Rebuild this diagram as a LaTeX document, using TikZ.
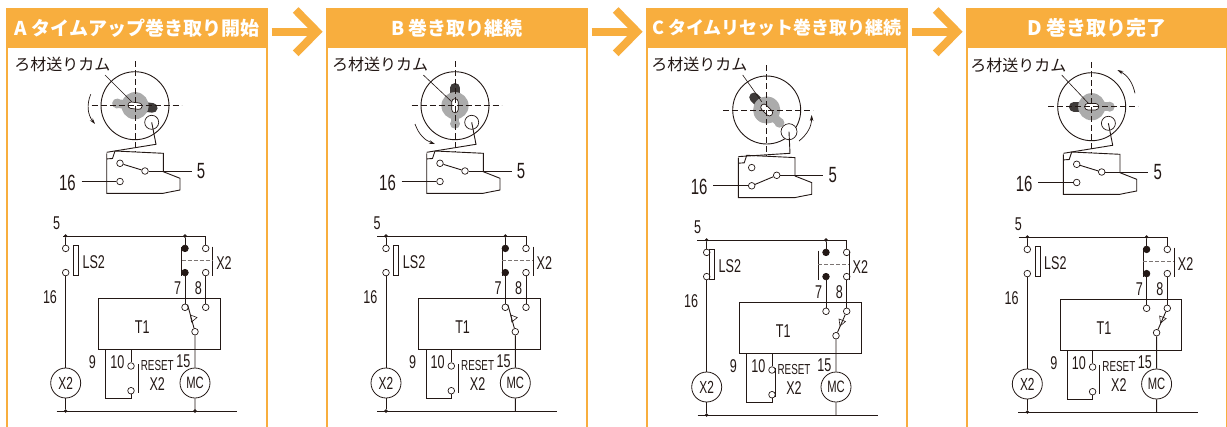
\documentclass[tikz,border=0pt]{standalone}
\usepackage{fontspec}
\setmainfont{Liberation Sans}[FakeStretch=0.68]
\newfontfamily\cjkfont{Noto Sans CJK JP}
\usetikzlibrary{arrows.meta}

\definecolor{panelorange}{HTML}{F8AE3E}
\definecolor{inkline}{HTML}{231815}
\definecolor{camgray}{HTML}{ABABAB}
\definecolor{camdark}{HTML}{3E3A39}

\tikzset{
  wire/.style={line width=0.9},
  contact/.style={circle,draw,fill=white,minimum size=6.6,inner sep=0,line width=0.7},
  blackcontact/.style={contact,fill=inkline},
  junction/.style={circle,draw,fill=inkline,minimum size=3,inner sep=0,line width=0.4},
  coil/.style={circle,draw,fill=white,minimum size=30,inner sep=0,line width=0.8,font=\fontsize{17.5}{17.5}\selectfont},
  num/.style={inner sep=0,font=\fontsize{18.5}{18.5}\selectfont},
  bignum/.style={inner sep=0,font=\fontsize{22}{22}\selectfont},
  kana/.style={inner sep=0,font=\cjkfont\fontsize{16}{16}\selectfont},
  head/.style={fill=panelorange,text=white,inner sep=0,minimum width=262,minimum height=39.5,font=\cjkfont\bfseries\fontsize{#1}{#1}\selectfont},
  centerline/.style={line width=0.6,dash pattern=on 6pt off 3pt},
  turn/.style={line width=0.7,-{Stealth[length=6pt,width=3.6pt]}},
  step arrow/.style={panelorange,line width=8},
}

% #1 cam angle, #2 roller, #3 roller size, #4 lever knee, #5 contact that the lever joins
\newcommand\camswitch[5]{
  \draw[wire] (0,0) circle (34);
  \begin{scope}[rotate=#1]
    \draw[camdark,line width=9.6,line cap=round] (0,0) -- (17.9,0);
    \fill[camgray] (0,0) circle (13.6) (-18,0) circle (5);
    \draw[camgray,line width=8.6] (0,0) -- (-18,0);
    \draw[fill=white,line width=0.7,rounded corners=3] (-7,-3.2) rectangle (7,3.2);
  \end{scope}
  \draw[centerline] (-43.3,0) -- (46.7,0);
  \draw[centerline] (0,-44.7) -- (0,46);
  \node[circle,draw,fill=white,minimum size=#3,inner sep=0,line width=0.7] (roller) at #2 {};
  \coordinate (leverknee) at #4;
  \coordinate (levertip) at (-28.3,46.6);
  \draw[wire] (roller.center) -- (leverknee) -- (levertip);
  % switch body
  \draw[wire] (-28.3,47.6) -- (-28.3,87.6) -- (28.3,87.6) -- (33,86.6) -- (45,84.3)
    -- (45,72.6) -- (28.3,66) -- (28.3,47.6) -- (-20,45.3) -- (-22.5,52.8) -- (-28.3,53.2);
  \node[contact] (swnc) at (-15,57.6) {};
  \node[contact] (swno) at (-15,75.8) {};
  \node[contact] (swcom) at (10,65.3) {};
  \coordinate (wire5) at (56.7,65.3);
  \coordinate (wire16) at (-53.3,75.8);
  \draw[wire] (swcom) -- (#5);
  \draw[wire] (swcom) -- (wire5);
  \draw[wire] (wire16) -- (swno);
  \node[bignum] (lab5) at (66,65.3) {5};
  \node[bignum] (lab16) at (-67.5,77) {16};
}

% #1 LS2 bar, #2 left X2 bar, #3 right X2 bar, #4 reset bar, #5 timer contact, #6 timer contact end, #7 valve mark, #8 rail start
\newcommand\timercircuit[8]{
  \coordinate (railstart) at (#8,236);
  \coordinate (railend) at (205.7,236);
  \coordinate (groundstart) at (56.7,411);
  \coordinate (groundend) at (236.7,411);
  \draw[wire] (railstart) -- (railend);
  \draw[line width=1] (groundstart) -- (groundend);
  \node[junction] (top1) at (65.7,236) {};
  \node[junction] (top2) at (185,236) {};
  \node[junction] (bot1) at (65.7,411) {};
  % LS2 branch
  \node[contact] (ls1) at (65.7,248.4) {};
  \node[contact] (ls2) at (65.7,272.6) {};
  \node[coil] (coilx) at (65.7,383) {X2};
  \draw[line width=0.7] (#1,245.7) rectangle ++(5,30);
  \draw[wire] (top1) -- (ls1) (ls2) -- (coilx) (coilx) -- (bot1);
  % X2 contacts
  \node[blackcontact] (nc1) at (185,248.4) {};
  \node[blackcontact] (nc2) at (185,272.6) {};
  \node[contact] (no1) at (205.7,248.4) {};
  \node[contact] (no2) at (205.7,272.6) {};
  \draw[wire] (#2,246.7) -- (#2,276);
  \draw[wire] (#3,246.7) -- (#3,276);
  \draw[line width=0.9,dash pattern=on 4pt off 2pt,inkline!60] (#2,260.7) -- (#3,260.7);
  % timer
  \node[draw,line width=0.8,minimum width=121.7,minimum height=50.7,inner sep=0] (tbox) at (159.15,324) {};
  \node[contact] (t7) at (185,307.3) {};
  \node[contact] (t8) at (205.7,307.3) {};
  \node[contact] (tc) at (195,331.7) {};
  \node[coil,font=\fontsize{16.5}{16.5}\selectfont] (coilmc) at (195,383) {MC};
  \coordinate (botmc) at (195,411);
  \draw[wire] (top2) -- (nc1) (nc2) -- (t7) (railend) -- (no1) (no2) -- (t8);
  \draw[wire] (tc) -- (#5#6) (tc) -- (coilmc) (coilmc) -- (botmc);
  \draw[line width=0.6] (#7-2,315) -- (#7+4.5,317.5) -- (#7-1,322) -- cycle;
  % reset contact
  \coordinate (p9) at (105.7,349.4);
  \coordinate (p10) at (131,349.4);
  \coordinate (q9) at (105.7,398.7);
  \node[contact] (r1) at (131,366) {};
  \node[contact] (r2) at (131,390.7) {};
  \draw[wire] (p10) -- (r1) (p9) -- (q9) -| (r2);
  \draw[wire] (#4,364.3) -- (#4,393);
  % labels
  \node[num] (tlab) at (142.3,326.7) {T1};
  \node[num] (lsl) at (#1+20.5,262) {LS2};
  \node[num] (x2a) at (#3+11.3,263) {X2};
  \node[num] (n5) at (56.7,223) {5};
  \node[num] (n16) at (50,297) {16};
  \node[num] (n7) at (177.7,288.3) {7};
  \node[num] (n8) at (198.3,288.3) {8};
  \node[num] (n9) at (92.3,361.7) {9};
  \node[num] (n10) at (117.3,361.7) {10};
  \node[num] (n15) at (183.3,361.7) {15};
  \node[inner sep=0,font=\fontsize{14.5}{14.5}\selectfont] (reset) at (#4+19,365.7) {RESET};
  \node[num] (x2b) at (#4+19,384.3) {X2};
}

\begin{document}
\begin{tikzpicture}[x=1pt,y=-1pt,color=inkline]
  \useasboundingbox (0,0) rectangle (1227,426);
  \fill[white] (0,0) rectangle (1227,426);

  % panels
  \node[head=19] (heada) at (137,28) {A タイムアップ巻き取り開始};
  \node[head=19] (headb) at (457,28) {B 巻き取り継続};
  \node[head=18] (headc) at (777,28) {C タイムリセット巻き取り継続};
  \node[head=20] (headd) at (1097,28) {D 巻き取り完了};
  \foreach \name in {heada,headb,headc,headd}{
    \fill[panelorange] (\name.south west) rectangle ++(2.2,380);
    \fill[panelorange] (\name.south east) rectangle ++(-2.6,380);
  }

  % arrows between panels
  \foreach \dx [count=\i] in {0,320,640}{
    \begin{scope}[shift={(\dx,0)}]
      \draw[step arrow] (271.7,31.7) -- (315,31.7);
      \draw[step arrow] (295.7,10) -- (317,31.7) -- (295.7,53.4);
    \end{scope}
  }

  % A
  \begin{scope}[shift={(135,105.7)},name prefix=a-]
    \camswitch{-7}{(16.7,16.6)}{14}{(21,38.6)}{swnc}
    \node[kana] (camlabel) at (-72.7,-41.7) {ろ材送りカム};
    \coordinate (leadstart) at (-30,-30.7);
    \coordinate (hub) at (-3.3,-4);
    \draw[line width=0.6] (leadstart) -- (hub);
    \coordinate (turn1) at (-44.3,-11.4);
    \coordinate (turn2) at (-40,18.3);
    \draw[turn] (turn1) to[bend right=30] (turn2);
  \end{scope}
  \begin{scope}[name prefix=a-]
    \timercircuit{73.3}{181.7}{212.7}{138.3}{t7}{.north east}{192.5}{63}
    \node[junction] (botmcdot) at (botmc) {};
  \end{scope}

  % B
  \begin{scope}[shift={(455,105.7)},name prefix=b-]
    \camswitch{90}{(16.7,16.6)}{14}{(21,38.6)}{swnc}
    \node[kana] (camlabel) at (-75,-41.7) {ろ材送りカム};
    \coordinate (leadstart) at (-31.7,-30.7);
    \coordinate (hub) at (-3.3,-4);
    \draw[line width=0.6] (leadstart) -- (hub);
    \coordinate (turn1) at (-40,18.3);
    \coordinate (turn2) at (-20,38.3);
    \draw[turn] (turn1) to[bend right=25] (turn2);
  \end{scope}
  \begin{scope}[shift={(320.3,0)},name prefix=b-]
    \timercircuit{73.3}{181.7}{212.7}{138.3}{t7}{.north east}{192.5}{57}
  \end{scope}

  % C
  \begin{scope}[shift={(766.7,110)},name prefix=c-]
    \camswitch{135}{(22.3,21.7)}{16}{(23.3,43.3)}{swno}
    \node[kana] (camlabel) at (-67.4,-45.7) {ろ材送りカム};
    \coordinate (leadstart) at (-24,-35);
    \coordinate (hub) at (-5,-8.3);
    \draw[line width=0.6] (leadstart) -- (hub);
    \coordinate (turn1) at (32.3,31);
    \coordinate (turn2) at (45,5);
    \draw[turn] (turn1) to[bend right=25] (turn2);
  \end{scope}
  \begin{scope}[shift={(641,4)},name prefix=c-]
    \timercircuit{68.3}{177.3}{208}{134}{t8}{}{200}{56}
  \end{scope}

  % D
  \begin{scope}[shift={(1091.7,106.7)},name prefix=d-]
    \camswitch{180}{(16.7,16.6)}{14}{(21,38.6)}{swnc}
    \node[kana] (camlabel) at (-73.4,-41.7) {ろ材送りカム};
    \coordinate (leadstart) at (-30,-31.7);
    \coordinate (hub) at (-3.3,-3.4);
    \draw[line width=0.6] (leadstart) -- (hub);
    \coordinate (turn1) at (43.3,-13.4);
    \coordinate (turn2) at (25.6,-36.7);
    \draw[turn] (turn1) to[bend right=25] (turn2);
  \end{scope}
  \begin{scope}[shift={(961.6,1)},name prefix=d-]
    \timercircuit{73.3}{181.7}{212.7}{138.3}{t8}{}{200}{57}
  \end{scope}

\end{tikzpicture}
\end{document}
